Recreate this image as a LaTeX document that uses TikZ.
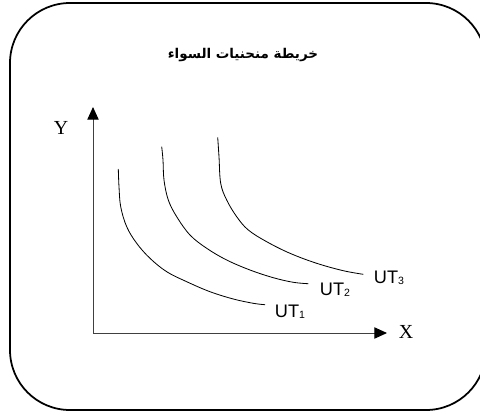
\documentclass[tikz,border=0pt]{standalone}
\usepackage{fontspec}
\setmainfont{Liberation Serif}
\newfontfamily\arabicfont[Script=Arabic]{DejaVu Sans}
\newfontfamily\utfont{Liberation Sans}
\TeXXeTstate=1
\usetikzlibrary{positioning,arrows.meta}
\tikzset{
  axis/.style={draw=black!75,line width=0.8pt,-{Triangle[length=0.38cm,width=0.34cm,black]}},
  ucurve/.style={line width=0.7pt},
  utlabel/.style={font=\utfont\fontsize{15.5pt}{16pt}\selectfont,inner sep=0pt},
  axlabel/.style={font=\fontsize{17pt}{18pt}\selectfont,inner sep=0pt}
}
\newcommand{\utsub}[1]{\raisebox{-0.5pt}{\fontsize{9pt}{9pt}\selectfont #1}}
\begin{document}
\begin{tikzpicture}[x=0.03cm,y=-0.03cm]
  \useasboundingbox (0,0) rectangle (480,413);
  % frame
  \draw[line width=1.5pt,rounded corners=1.8cm] (10,3) rectangle (486,410);
  % title
  \node[font=\arabicfont\bfseries\fontsize{11.5pt}{14pt}\selectfont] (title) at (243,55) {\beginR خريطة منحنيات السواء\endR};
  % axes
  \coordinate (o) at (93,333);
  \coordinate (ytip) at (93,107);
  \coordinate (xtip) at (387,333);
  \draw[axis] (o) -- (ytip);
  \draw[axis] (o) -- (xtip);
  \node[axlabel] (ylab) at (61,128) {Y};
  \node[axlabel] (xlab) at (406,332) {X};
  % indifference curves
  \draw[ucurve] plot[smooth,tension=0.6] coordinates {(118.3,169) (119,186.7) (120.7,206.7) (126.7,226.7) (136.7,243.3) (150,258.3) (166.7,271.7) (186.7,281.7) (210,291.7) (233.3,299) (253.3,303.3) (265,304.7)};
  \draw[ucurve] plot[smooth,tension=0.6] coordinates {(161.7,146.7) (163,160) (164,180) (168.3,200) (176.7,216.7) (190,235) (206.7,248.3) (226.7,260) (250,270) (273.3,277.7) (293.3,282.3) (308.3,283.7)};
  \draw[ucurve] plot[smooth,tension=0.6] coordinates {(217.7,137.3) (219,156.7) (220.7,183.3) (226.7,200) (236.7,216.7) (248.3,230) (266.7,241.7) (290,253.3) (316.7,263.3) (343.3,270.7) (363.3,274.3)};
  \node[utlabel] (ut1) at (290,312) {UT\utsub{1}};
  \node[utlabel] (ut2) at (335,290) {UT\utsub{2}};
  \node[utlabel] (ut3) at (389,278) {UT\utsub{3}};
\end{tikzpicture}
\end{document}
